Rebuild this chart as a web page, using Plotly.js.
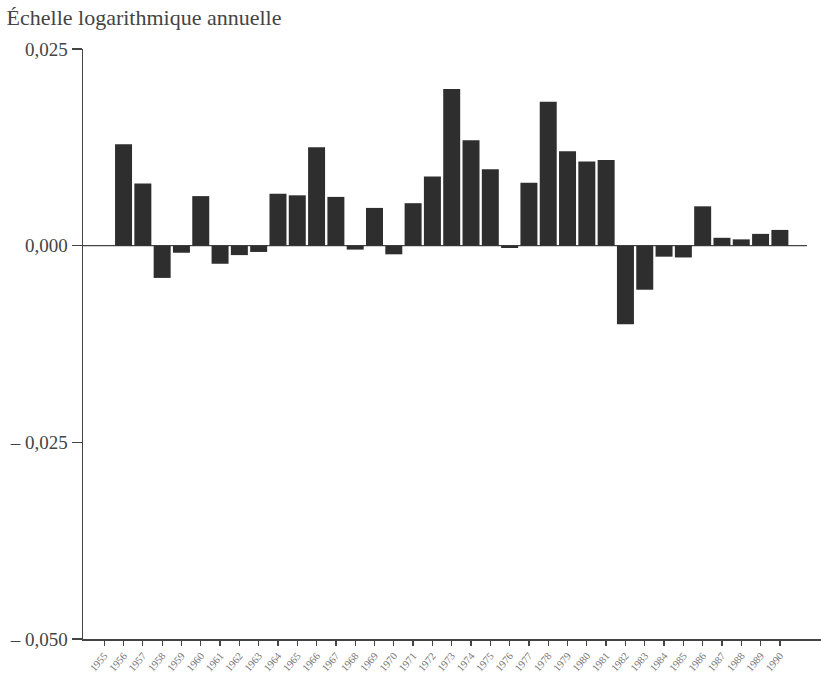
<!DOCTYPE html>
<html>
<head>
<meta charset="utf-8">
<script src="https://cdn.plot.ly/plotly-3.0.1.min.js"></script>
<style>html,body{margin:0;padding:0;background:#fff;}#chart{width:821px;height:677px;}</style>
</head>
<body>
<div id="chart"></div>
<script>
const years = [1955,1956,1957,1958,1959,1960,1961,1962,1963,1964,1965,1966,1967,1968,1969,1970,1971,1972,1973,1974,1975,1976,1977,1978,1979,1980,1981,1982,1983,1984,1985,1986,1987,1988,1989,1990];
const values = [null,0.0129,0.0079,-0.0041,-0.0009,0.0063,-0.0023,-0.0012,-0.0008,0.0066,0.0064,0.0125,0.0062,-0.0005,0.0048,-0.0011,0.0054,0.0088,0.0199,0.0134,0.0097,-0.0003,0.0080,0.0183,0.0120,0.0107,0.0109,-0.0100,-0.0056,-0.0014,-0.0015,0.0050,0.0010,0.0008,0.0015,0.0020];
const yTickVals = [0.025, 0, -0.025, -0.05];
const yTickText = ["0,025", "0,000", "\u2013 0,025", "\u2013 0,050"];
const yearLabels = years.map(String);
const titleText = "\u00c9chelle logarithmique annuelle";

const serif = "Liberation Serif, Times New Roman, serif";

Plotly.newPlot('chart', [{
  type: 'bar',
  x: years,
  y: values,
  marker: {color: '#2e2e2e', line: {width: 0}},
  hoverinfo: 'x+y'
}], {
  width: 821, height: 677,
  margin: {l: 83, r: 0, t: 49, b: 38, pad: 0},
  paper_bgcolor: '#fff', plot_bgcolor: '#fff',
  bargap: 0.12,
  showlegend: false,
  title: {text: titleText, x: 0.008, xref: 'container', xanchor: 'left', y: 0.986, yref: 'container', yanchor: 'top',
          font: {family: serif, size: 22, color: '#444'}},
  xaxis: {
    range: [1953.9, 1992.13],
    tickvals: years, ticktext: yearLabels,
    tickangle: -50,
    ticks: 'outside', ticklen: 5, tickwidth: 1.3, tickcolor: '#444',
    tickfont: {family: serif, size: 10.5, color: '#777'},
    showline: true, linecolor: '#444', linewidth: 1.5,
    showgrid: false, zeroline: false, fixedrange: true
  },
  yaxis: {
    range: [-0.05, 0.025],
    tickvals: yTickVals, ticktext: yTickText,
    ticks: 'outside', ticklen: 10, tickwidth: 1.3, tickcolor: '#444',
    tickfont: {family: serif, size: 19, color: '#444'},
    showline: true, linecolor: '#444', linewidth: 1.5,
    showgrid: false, zeroline: false, fixedrange: true
  },
  shapes: [{type: 'line', xref: 'paper', yref: 'y', x0: 0, x1: 0.981, y0: 0, y1: 0,
            line: {color: '#444', width: 1.3}, layer: 'below'}]
}, {displayModeBar: false, staticPlot: true});
</script>
</body>
</html>
